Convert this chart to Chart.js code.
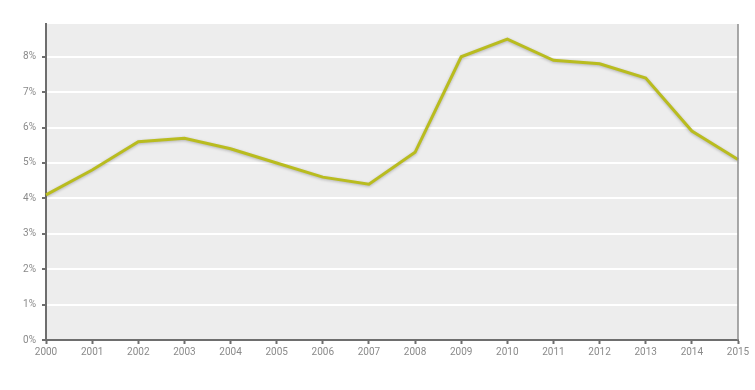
<!DOCTYPE html>
<html>
<head>
<meta charset="utf-8">
<script src="https://cdn.jsdelivr.net/npm/chart.js@4/dist/chart.umd.min.js"></script>
<style>
  html, body { margin: 0; padding: 0; background: #fff; }
  #wrap { width: 755px; height: 390px; }
</style>
</head>
<body>
<div id="wrap"><canvas id="chart"></canvas></div>
<script>
const years = ["2000", "2001", "2002", "2003", "2004", "2005", "2006", "2007",
               "2008", "2009", "2010", "2011", "2012", "2013", "2014", "2015"];
const rates = [4.1, 4.8, 5.6, 5.7, 5.4, 5.0, 4.6, 4.4, 5.3, 8.0, 8.5, 7.9, 7.8, 7.4, 5.9, 5.1];
const yMax = 8.925;

const plotBackground = {
    id: 'plotBackground',
    beforeDraw(chart) {
        const {ctx, chartArea: {left, top, width, height}} = chart;
        ctx.save();
        ctx.fillStyle = '#ededed';
        ctx.fillRect(left, top, width, height);
        ctx.restore();
    },
    afterDraw(chart) {
        // thin frame on the right side of the plot
        const {ctx, chartArea: {right, top, bottom}} = chart;
        ctx.save();
        ctx.strokeStyle = '#8c8c8c';
        ctx.lineWidth = 1.5;
        ctx.beginPath();
        ctx.moveTo(right, top);
        ctx.lineTo(right, bottom);
        ctx.stroke();
        ctx.restore();
    }
};

const lineShadow = {
    id: 'lineShadow',
    beforeDatasetDraw(chart) {
        const ctx = chart.ctx;
        ctx.save();
        ctx.shadowColor = 'rgba(0,0,0,0.25)';
        ctx.shadowBlur = 3;
        ctx.shadowOffsetY = 1;
    },
    afterDatasetDraw(chart) {
        chart.ctx.restore();
    }
};

new Chart(document.getElementById("chart"), {
    type: 'line',
    data: {
        labels: years,
        datasets: [{
            data: rates,
            borderColor: '#b9bc1f',
            borderWidth: 3,
            fill: false,
            tension: 0,
            pointRadius: 0
        }]
    },
    options: {
        responsive: true,
        maintainAspectRatio: false,
        animation: false,
        layout: { padding: { top: 24, right: 17, left: 0, bottom: 0 } },
        plugins: {
            legend: { display: false },
            tooltip: { enabled: false }
        },
        scales: {
            x: {
                offset: false,
                afterFit(scale) { scale.height = 50; },
                border: { color: '#6e6e6e', width: 2 },
                grid: { drawOnChartArea: false, tickColor: '#6e6e6e', tickLength: 4, tickWidth: 2 },
                ticks: {
                    color: '#8a8a8a',
                    font: { family: 'Roboto', size: 10 },
                    padding: 2,
                    maxRotation: 0,
                    autoSkip: false
                }
            },
            y: {
                min: 0,
                max: yMax,
                afterFit(scale) { scale.width = 46; },
                border: { color: '#6e6e6e', width: 2 },
                grid: { color: '#ffffff', lineWidth: 2, tickColor: '#6e6e6e', tickLength: 4, tickWidth: 2 },
                ticks: {
                    stepSize: 1,
                    includeBounds: false,
                    color: '#8a8a8a',
                    font: { family: 'Roboto', size: 10 },
                    padding: 6,
                    callback: v => v + '%'
                }
            }
        }
    },
    plugins: [plotBackground, lineShadow]
});
</script>
</body>
</html>
